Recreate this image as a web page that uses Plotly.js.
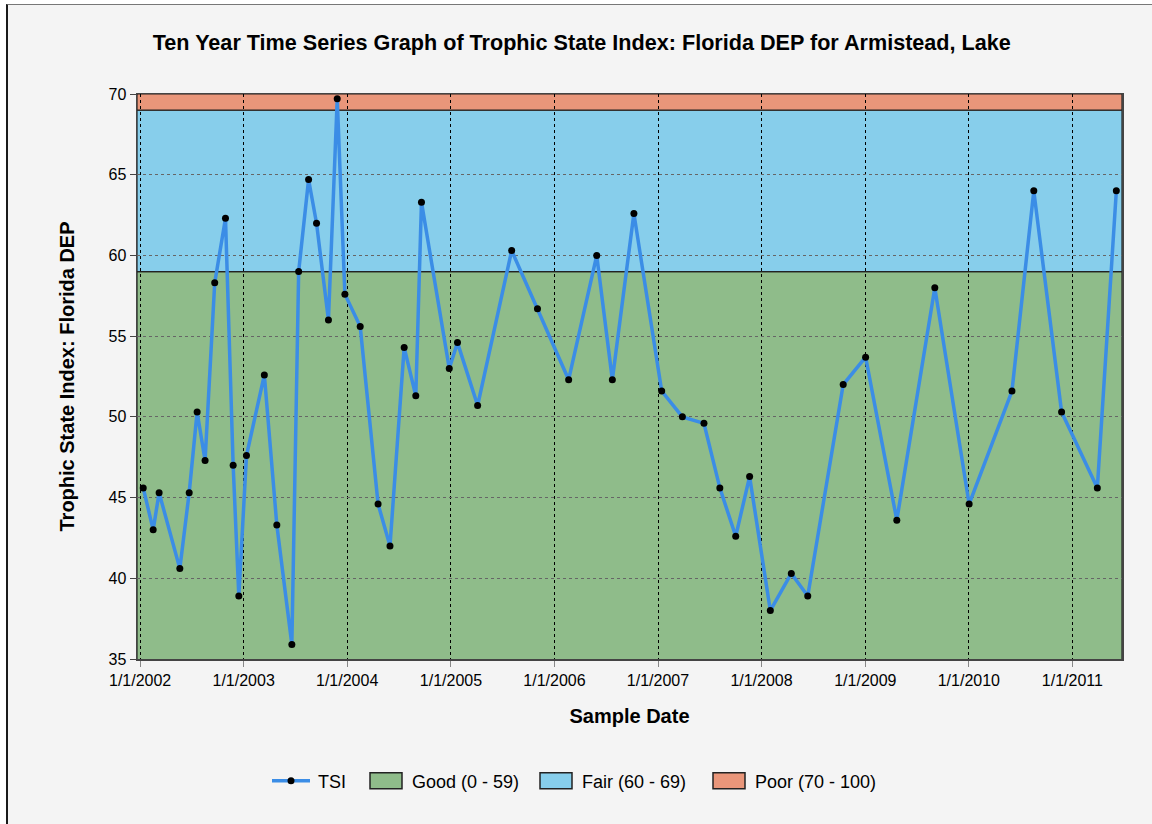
<!DOCTYPE html>
<html>
<head>
<meta charset="utf-8">
<script src="https://cdn.plot.ly/plotly-3.0.1.min.js"></script>
<style>
  html, body { margin: 0; padding: 0; background: #ffffff; }
  #frame { position: absolute; left: 6px; top: 4px; width: 1146px; height: 820px;
           border-left: 2px solid #1a1a1a; border-top: 1px solid #777; background: #f4f4f4; }
  #chart { position: absolute; left: 0; top: 0; width: 1152px; height: 824px; }
</style>
</head>
<body>
<div id="frame"></div>
<div id="chart"></div>
<script>
// ---- data ----
const sampleDates = [
  "2002-01-12","2002-02-16","2002-03-09","2002-05-21","2002-06-23","2002-07-21","2002-08-18",
  "2002-09-21","2002-10-29","2002-11-25","2002-12-15","2003-01-11","2003-03-15","2003-04-28",
  "2003-06-20","2003-07-14","2003-08-18","2003-09-15","2003-10-27","2003-11-27","2003-12-24",
  "2004-02-16","2004-04-19","2004-05-31","2004-07-20","2004-08-30","2004-09-19","2004-12-26",
  "2005-01-24","2005-04-05","2005-08-03","2005-11-02","2006-02-20","2006-05-30","2006-07-24",
  "2006-10-08","2007-01-14","2007-03-28","2007-06-12","2007-08-07","2007-10-02","2007-11-20",
  "2008-02-01","2008-04-15","2008-06-12","2008-10-15","2009-01-02","2009-04-22","2009-09-03",
  "2010-01-02","2010-06-02","2010-08-18","2010-11-24","2011-03-30","2011-06-05"
];
const tsiValues = [
  45.6, 43.0, 45.3, 40.6, 45.3, 50.3, 47.3,
  58.3, 62.3, 47.0, 38.9, 47.6, 52.6, 43.3,
  35.9, 59.0, 64.7, 62.0, 56.0, 69.7, 57.6,
  55.6, 44.6, 42.0, 54.3, 51.3, 63.3, 53.0,
  54.6, 50.7, 60.3, 56.7, 52.3, 60.0, 52.3,
  62.6, 51.6, 50.0, 49.6, 45.6, 42.6, 46.3,
  38.0, 40.3, 38.9, 52.0, 53.7, 43.6, 58.0,
  44.6, 51.6, 64.0, 50.3, 45.6, 64.0
];
const tickDates = ["2002-01-01","2003-01-01","2004-01-01","2005-01-01","2006-01-01",
                   "2007-01-01","2008-01-01","2009-01-01","2010-01-01","2011-01-01"];
const tickLabels = ["1/1/2002","1/1/2003","1/1/2004","1/1/2005","1/1/2006",
                    "1/1/2007","1/1/2008","1/1/2009","1/1/2010","1/1/2011"];
const yTicks = [35, 40, 45, 50, 55, 60, 65, 70];
const bandNames  = ["Good (0 - 59)", "Fair (60 - 69)", "Poor (70 - 100)"];
const bandLow    = [0, 59, 69];
const bandHigh   = [59, 69, 100];
const bandColors = ["#8fbc8a", "#87ceeb", "#e9967a"];
const xRange = ["2001-12-21", "2011-06-25"];
const yRange = [35, 70];

const FONT = "Liberation Sans, Arial, sans-serif";

const traces = [{
  type: "scatter", mode: "lines+markers", name: "TSI",
  x: sampleDates, y: tsiValues,
  line: { color: "#3b8de6", width: 3.5 },
  marker: { color: "#000000", size: 7 },
  cliponaxis: false
}];

const shapes = bandNames.map((nm, i) => ({
  type: "rect", layer: "below", xref: "paper", yref: "y",
  x0: 0, x1: 1, y0: bandLow[i], y1: Math.min(bandHigh[i], yRange[1]),
  fillcolor: bandColors[i], line: { color: "#222222", width: 1.2 },
  name: nm, showlegend: true
}));

const layout = {
  width: 1152, height: 824,
  paper_bgcolor: "rgba(0,0,0,0)", plot_bgcolor: "rgba(0,0,0,0)",
  margin: { l: 137, r: 30, t: 94, b: 165 },
  font: { family: FONT, color: "#000", size: 16 },
  title: {
    text: "<b>Ten Year Time Series Graph of Trophic State Index: Florida DEP for Armistead, Lake</b>",
    font: { family: FONT, size: 21.6, color: "#000" },
    x: 0.505, xanchor: "center", y: 0.948, yanchor: "middle"
  },
  xaxis: {
    type: "date", range: xRange,
    tickmode: "array", tickvals: tickDates, ticktext: tickLabels,
    ticks: "outside", ticklen: 6, tickcolor: "#888", tickwidth: 1,
    tickfont: { size: 16, family: FONT },
    showgrid: true, gridcolor: "#000", griddash: "dot", gridwidth: 1,
    showline: true, linecolor: "#444", linewidth: 1.5, mirror: true,
    zeroline: false,
    title: { text: "<b>Sample Date</b>", font: { size: 20, family: FONT }, standoff: 21 }
  },
  yaxis: {
    range: yRange, tickmode: "array", tickvals: yTicks,
    ticks: "outside", ticklen: 6, tickcolor: "#444", tickwidth: 1,
    tickfont: { size: 16, family: FONT },
    showgrid: true, gridcolor: "#666", griddash: "dot", gridwidth: 1,
    showline: true, linecolor: "#444", linewidth: 1.5, mirror: true,
    zeroline: false,
    title: { text: "<b>Trophic State Index: Florida DEP</b>", font: { size: 20, family: FONT }, standoff: 28 }
  },
  shapes: shapes,
  showlegend: true,
  legend: {
    orientation: "h", x: 0.445, xanchor: "center", y: -0.216, yanchor: "middle",
    font: { size: 18, family: FONT }, bgcolor: "rgba(0,0,0,0)"
  }
};

// where the reference puts each legend label's left edge (page px)
const legendTextLeft = { "TSI": 318, "Good (0 - 59)": 412, "Fair (60 - 69)": 582, "Poor (70 - 100)": 755 };

Plotly.newPlot("chart", traces, layout, { displayModeBar: false, staticPlot: true }).then(gd => {
  const root = gd.getBoundingClientRect();
  gd.querySelectorAll(".legend [clip-path]").forEach(el => el.removeAttribute("clip-path"));
  gd.querySelectorAll(".legend .traces").forEach(tr => {
    const txt = tr.querySelector("text.legendtext");
    if (!txt) return;
    const label = txt.textContent;
    if (label === "TSI") {
      tr.querySelectorAll(".legendlines path").forEach(p => p.setAttribute("d", "M-6,0h38"));
      tr.querySelectorAll(".legendpoints path").forEach(p => p.setAttribute("transform", "translate(13,0)"));
    } else {
      tr.querySelectorAll("path").forEach(p => {
        if (p.getAttribute("d")) {
          p.setAttribute("d", "M-2,-8H30V8H-2Z");
          p.setAttribute("transform", "");
          p.style.strokeWidth = "1.5px";
          p.style.stroke = "#222";
        }
      });
    }
    const target = legendTextLeft[label];
    if (target !== undefined) {
      const cur = txt.getBoundingClientRect().left - root.left;
      const m = /translate\(\s*([-\d.]+)[ ,]+([-\d.]+)\s*\)/.exec(tr.getAttribute("transform") || "");
      const tx = m ? parseFloat(m[1]) : 0, ty = m ? parseFloat(m[2]) : 0;
      tr.setAttribute("transform", `translate(${tx + target - cur},${ty})`);
    }
  });
});
</script>
</body>
</html>
